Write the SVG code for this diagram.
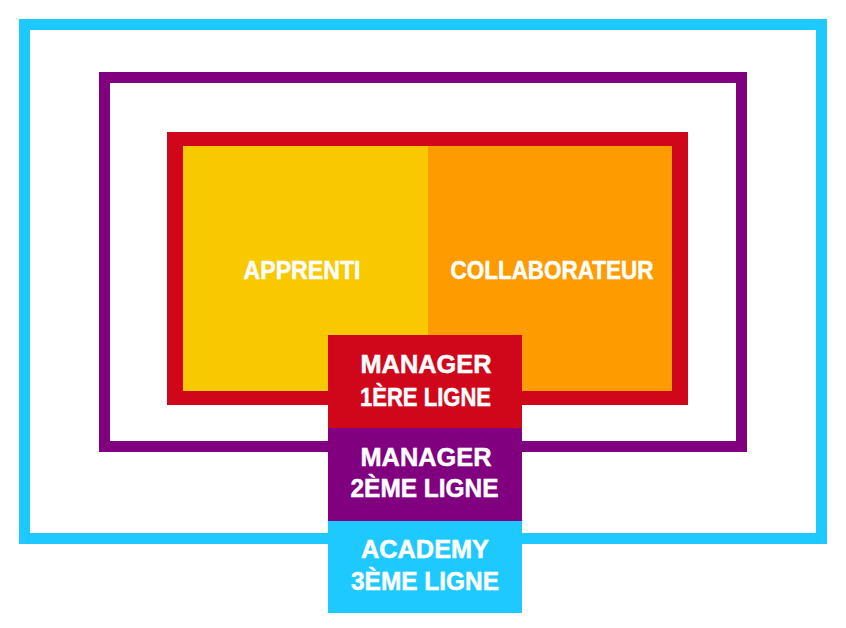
<svg xmlns="http://www.w3.org/2000/svg" width="846" height="628" viewBox="0 0 846 628">
<style>
.t{font-family:"Liberation Sans",Arial,sans-serif;font-weight:bold;font-size:26px;fill:#fff;stroke:#fff;stroke-width:0.5;text-anchor:middle}
</style>
<rect x="0" y="0" width="846" height="628" fill="#fff"/>
<g id="frames">
<rect id="academy-frame" x="24.5" y="24.5" width="797" height="514" fill="none" stroke="#1EC9FF" stroke-width="11"/>
<rect id="manager2-frame" x="104.5" y="77.5" width="637" height="369" fill="none" stroke="#800080" stroke-width="11"/>
<rect id="manager1-frame" x="167" y="132" width="521" height="273" fill="#D0071A"/>
</g>
<g id="apprenti">
<rect x="183" y="146" width="245" height="245" fill="#F9C900"/>
<text class="t" x="302" y="279" textLength="117" lengthAdjust="spacingAndGlyphs">APPRENTI</text>
</g>
<g id="collaborateur">
<rect x="428" y="146" width="244" height="245" fill="#FE9B00"/>
<text class="t" x="552" y="279" textLength="203" lengthAdjust="spacingAndGlyphs">COLLABORATEUR</text>
</g>
<g id="connectors"></g>
<g id="manager1">
<rect x="328" y="335" width="194" height="93" fill="#D0071A"/>
<text class="t" x="426" y="373" textLength="131" lengthAdjust="spacingAndGlyphs">MANAGER</text>
<text class="t" x="425.5" y="406" textLength="131" lengthAdjust="spacingAndGlyphs">1ÈRE LIGNE</text>
</g>
<g id="manager2">
<rect x="328" y="428" width="194" height="93" fill="#800080"/>
<text class="t" x="426" y="466" textLength="131" lengthAdjust="spacingAndGlyphs">MANAGER</text>
<text class="t" x="424.5" y="497" textLength="148" lengthAdjust="spacingAndGlyphs">2ÈME LIGNE</text>
</g>
<g id="academy">
<rect x="328" y="521" width="194" height="92" fill="#1EC9FF"/>
<text class="t" x="425" y="558" textLength="128" lengthAdjust="spacingAndGlyphs">ACADEMY</text>
<text class="t" x="425" y="590" textLength="148" lengthAdjust="spacingAndGlyphs">3ÈME LIGNE</text>
</g>
</svg>
